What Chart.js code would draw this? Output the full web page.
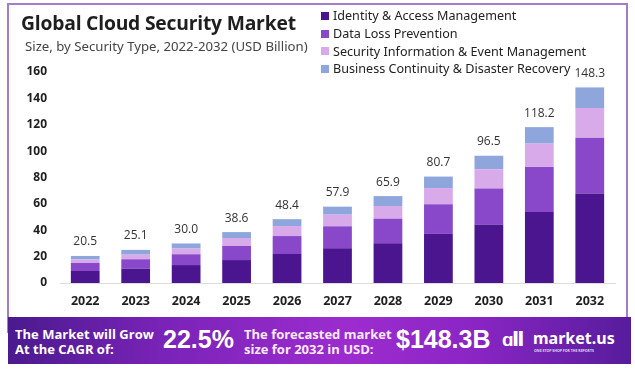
<!DOCTYPE html>
<html>
<head>
<meta charset="utf-8">
<script src="https://cdn.jsdelivr.net/npm/chart.js@4/dist/chart.umd.min.js"></script>
<style>
  html,body{margin:0;padding:0;background:#fff}
  body{width:635px;height:370px;position:relative;overflow:hidden;font-family:"Open Sans",sans-serif}
  #frame{position:absolute;left:7px;top:3px;width:621px;height:330px;border:2px solid #a57cc7;border-bottom:none;box-sizing:border-box}
  #c{position:absolute;left:0;top:0}
  .t{position:absolute;white-space:nowrap}
  #title{left:21px;top:9px;font-size:19.3px;font-weight:700;color:#1e1e1e;letter-spacing:-0.2px}
  #sub{left:25px;top:37px;font-size:13.2px;color:#444;font-family:"Noto Sans",sans-serif}
  #legend{position:absolute;left:321px;top:7px;font-family:"Noto Sans",sans-serif;font-size:12.6px;color:#222}
  #legend div{height:17.8px;line-height:17.8px;display:flex;align-items:center}
  #legend span.sw{width:8px;height:8px;margin-right:4px;display:inline-block}
  #banner{position:absolute;left:8px;top:317px;width:623px;height:47px;
    background:linear-gradient(90deg,#4a1a8e 0%,#7a23b8 25%,#9d2ccf 55%,#8a25c4 75%,#561c9c 100%);color:#fff;font-weight:700}
  .b1{font-size:13px;line-height:14.5px;top:10px}
  .big{font-size:25px;top:8px;font-family:"Liberation Sans",Arial,sans-serif;font-weight:700}
</style>
</head>
<body>
<div id="frame"></div>
<canvas id="c" width="635" height="370"></canvas>
<div class="t" id="title">Global Cloud Security Market</div>
<div class="t" id="sub">Size, by Security Type, 2022-2032 (USD Billion)</div>
<div id="legend"></div>
<div id="banner">
  <div class="t b1" style="left:7px">The Market will Grow<br>At the CAGR of:</div>
  <div class="t big" style="left:155px">22.5%</div>
  <div class="t b1" style="left:236px;color:#fbeaff">The forecasted market<br>size for 2032 in USD:</div>
  <div class="t big" style="left:388px">$148.3B</div>
  <div class="t" style="left:494px;top:9px;font-size:19px;font-weight:900;letter-spacing:-1px">ɑll</div>
  <div class="t" style="left:525px;top:10px;font-size:16px;font-family:'Noto Sans',sans-serif">market.us</div>
  <div class="t" style="left:526px;top:31px;font-size:3.5px;opacity:0.8">ONE STOP SHOP FOR THE REPORTS</div>
</div>
<script>
/* ═══ DATA ═══ */
const years=['2022','2023','2024','2025','2026','2027','2028','2029','2030','2031','2032'];
const totals=[20.5,25.1,30.0,38.6,48.4,57.9,65.9,80.7,96.5,118.2,148.3];
const seriesNames=['Identity & Access Management','Data Loss Prevention','Security Information & Event Management','Business Continuity & Disaster Recovery'];
const iam =[9.1,10.9,13.6,17.4,22.0,26.3,30.1,37.2,44.3,53.8,67.8];
const dlp =[6.1,7.1,8.2,10.7,13.6,16.7,18.7,22.5,27.3,34.2,42.4];
const siem=[2.6,3.5,4.3,6.0,7.6,8.8,9.6,12.3,14.6,17.7,22.5];
const bcdr=[2.7,3.6,3.9,4.5,5.2,6.1,7.5,8.7,10.3,12.5,15.6];
const yTicks=[0,20,40,60,80,100,120,140,160];

const COL=['#4b1590','#8848c9','#d8aaea','#8ea6dc'];

/* legend */
document.getElementById('legend').innerHTML=seriesNames.map((n,i)=>
  `<div><span class="sw" style="background:${COL[i]}"></span>${n}</div>`).join('');

/* total labels above stacks */
const totalLbl={
  id:'totalLbl',
  afterDatasetsDraw(ch){
    const c=ch.ctx, last=ch.getDatasetMeta(ch.data.datasets.length-1);
    c.save();
    c.font='12px "Open Sans", sans-serif';
    c.fillStyle='#333';
    c.textAlign='center'; c.textBaseline='middle';
    last.data.forEach((b,i)=>{
      c.fillText(totals[i].toFixed(1), b.x, ch.scales.y.getPixelForValue(totals[i])-14);
    });
    c.restore();
  }
};

new Chart(document.getElementById('c'),{
  type:'bar',
  data:{
    labels:years,
    datasets:[iam,dlp,siem,bcdr].map((d,i)=>({label:seriesNames[i],data:d,backgroundColor:COL[i],borderWidth:0}))
  },
  options:{
    responsive:false, animation:false,
    layout:{padding:{left:0,right:20,top:72,bottom:0}},
    datasets:{bar:{barPercentage:0.57,categoryPercentage:1}},
    plugins:{legend:{display:false},tooltip:{enabled:false}},
    scales:{
      x:{stacked:true,
        grid:{display:false},
        border:{display:true,color:'#dcdcdc',width:1},
        ticks:{color:'#1e1e1e',font:{family:'"Open Sans", sans-serif',size:12.5,weight:'bold'},padding:3},
        afterFit(s){s.height=87}
      },
      y:{stacked:true,min:0,max:160,
        afterBuildTicks(s){s.ticks=yTicks.map(v=>({value:v}))},
        grid:{display:false},
        border:{display:false},
        ticks:{color:'#1e1e1e',font:{family:'"Open Sans", sans-serif',size:12,weight:'bold'},padding:5},
        afterFit(s){s.width=60}
      }
    }
  },
  plugins:[totalLbl]
});
</script>
</body>
</html>
